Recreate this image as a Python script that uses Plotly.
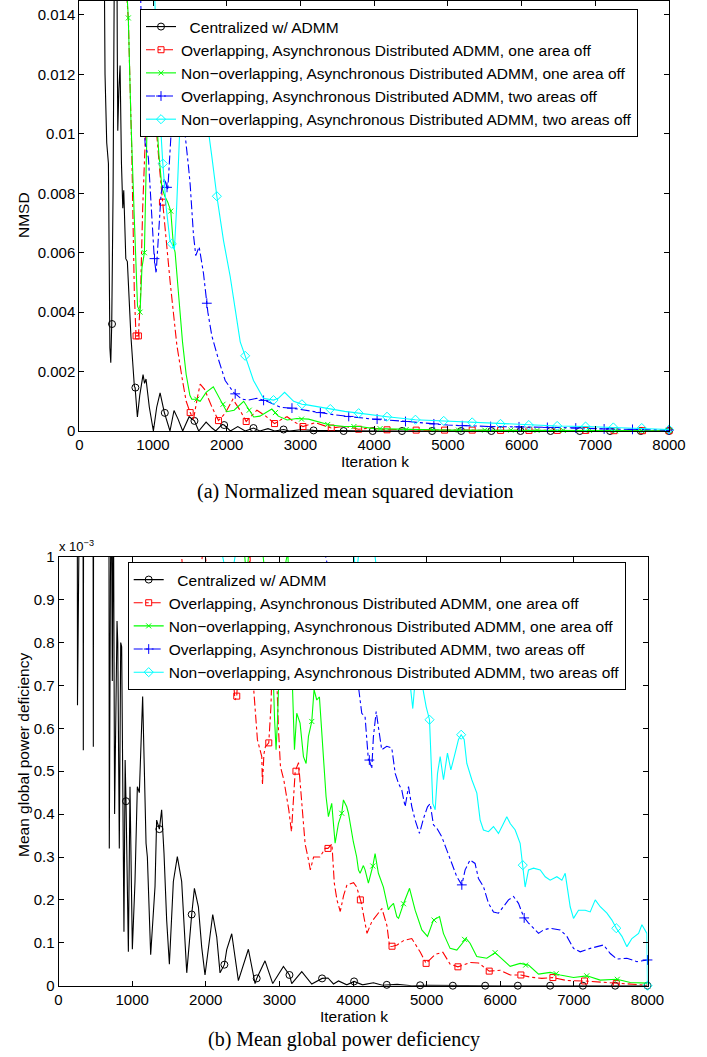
import plotly.graph_objects as go

# ---------------- names ----------------
names = [
    "\u00a0\u00a0Centralized w/ ADMM",
    "Overlapping, Asynchronous Distributed ADMM, one area off",
    "Non\u2212overlapping, Asynchronous Distributed ADMM, one area off",
    "Overlapping, Asynchronous Distributed ADMM, two areas off",
    "Non\u2212overlapping, Asynchronous Distributed ADMM, two areas off",
]
colors = ["#000000", "#ff0000", "#00ff00", "#0000ff", "#00ffff"]
dashes = ["solid", "dashdot", "solid", "dashdot", "solid"]
symbols = ["circle-open", "square-open", "x-thin-open", "cross-thin-open", "diamond-open"]
msizes = [7, 6, 5, 7, 7]

x_ticks = [0, 1000, 2000, 3000, 4000, 5000, 6000, 7000, 8000]
x_ticklabels = ["0", "1000", "2000", "3000", "4000", "5000", "6000", "7000", "8000"]
top_yticks = [0, 0.002, 0.004, 0.006, 0.008, 0.01, 0.012, 0.014]
top_yticklabels = ["0", "0.002", "0.004", "0.006", "0.008", "0.01", "0.012", "0.014"]
bot_yticks = [0, 0.1, 0.2, 0.3, 0.4, 0.5, 0.6, 0.7, 0.8, 0.9, 1.0]
bot_yticklabels = ["0", "0.1", "0.2", "0.3", "0.4", "0.5", "0.6", "0.7", "0.8", "0.9", "1"]

# ---------------- (a) NMSD ----------------
a_black_k = [300, 349, 372, 395, 415, 427, 440, 458, 476, 505, 515, 522, 537, 553, 572, 590, 603, 612, 631, 652,
             700, 747, 757, 788, 820, 865, 885, 905, 950, 1005, 1050, 1096, 1154, 1230, 1285, 1340, 1403, 1490,
             1562, 1620, 1720, 1800, 1850, 1940, 1965, 2050, 2150, 2250, 2363, 2450, 2560, 2650, 2771, 2850,
             3000, 3178, 3586, 4000, 5000, 6000, 7000, 8000]
a_black_y = [0.03, 0.012, 0.0097, 0.009, 0.0028, 0.0023, 0.0036, 0.008, 0.016, 0.02, 0.013, 0.0101, 0.0115, 0.0123,
             0.009, 0.0075, 0.0081, 0.0074, 0.0058, 0.0057, 0.0032, 0.0015, 0.00146, 0.00047, 0.0012, 0.0019,
             0.0016, 0.00175, 0.0008, 0.0, 0.0008, 0.00128, 0.00062, 0.0, 0.00069, 0.0004, 0.0, 0.00048,
             0.00034, 0.0, 0.0003, 0.0001, 0.0, 0.00022, 0.0002, 0.0, 0.00015, 0.0, 0.0001, 0.0, 0.00008, 0.0,
             0.00005, 0.0, 0.00004, 0.00002, 0.0, 0.0, 0.0, 0.0, 0.0, 0.0]
a_black_mk = [444, 761, 1160, 1562, 1965, 2363, 2771, 3178, 3586, 3980, 4378, 4786, 5180, 5590, 5985, 6393, 6790,
              7200, 7617, 8000]
a_black_my = [0.0036, 0.00146, 0.00061, 0.00034, 0.0002, 0.0001, 0.00005, 0.00002, 0, 0, 0, 0, 0, 0, 0, 0, 0,
              0, 0, 0]

a_red_k = [600, 640, 666, 711, 747, 770, 802, 830, 860, 901, 930, 960, 1005, 1050, 1090, 1128, 1180, 1233, 1280,
           1323, 1400, 1450, 1504, 1550, 1600, 1640, 1700, 1800, 1888, 1980, 2083, 2180, 2264, 2340, 2410, 2530,
           2649, 2750, 2818, 2920, 3034, 3200, 3300, 3418, 3600, 3790, 3950, 4175, 4400, 4570, 5000, 6000, 8000]
a_red_y = [0.025, 0.0148, 0.0138, 0.0095, 0.0046, 0.0032, 0.0032, 0.0045, 0.0075, 0.0102, 0.0108, 0.0101,
           0.0104, 0.0100, 0.0088, 0.0077, 0.0064, 0.0050, 0.0038, 0.0029, 0.0017, 0.0010, 0.00062, 0.0004,
           0.0011, 0.00158, 0.0014, 0.0008, 0.00035, 0.0006, 0.00107, 0.0007, 0.00032, 0.0005, 0.0007, 0.0005,
           0.00025, 0.0004, 0.00048, 0.0003, 0.00015, 0.00028, 0.0002, 0.0001, 0.00016, 0.00006, 0.0001,
           0.00004, 0.00006, 0.00003, 0.00003, 0.00002, 0.00001]
a_red_mk = [770, 802, 1128, 1504, 1888, 2264, 2649, 3034, 3418, 3790, 4175, 4570, 4955, 5330, 5715, 6100, 6485,
            6870, 7255, 7640, 8000]
a_red_my = [0.0032, 0.0032, 0.0077, 0.00062, 0.00035, 0.00032, 0.00025, 0.00015, 0.0001, 0.00006, 0.00004,
            0.00003, 0.00003, 0.00003, 0.00002, 0.00002, 0.00002, 0.00002, 0.00001, 0.00001, 0.00001]

a_green_k = [620, 645, 665, 700, 750, 790, 824, 850, 883, 900, 915, 940, 1000, 1040, 1080, 1120, 1160, 1200, 1241,
             1275, 1300, 1350, 1400, 1450, 1500, 1526, 1594, 1640, 1720, 1818, 1900, 2000, 2100, 2230, 2365, 2450,
             2612, 2700, 2820, 2950, 3110, 3250, 3400, 3600, 3800, 4000, 4500, 5000, 6000, 8000]
a_green_y = [0.025, 0.0148, 0.0139, 0.0105, 0.0069, 0.0042, 0.0040, 0.0055, 0.0060, 0.0085, 0.0098, 0.0115,
             0.0118, 0.0108, 0.0093, 0.0082, 0.0079, 0.0077, 0.0074, 0.0063, 0.0060, 0.0045, 0.0030, 0.0019,
             0.0012, 0.00107, 0.00107, 0.0010, 0.0013, 0.00149, 0.0011, 0.00065, 0.0007, 0.001, 0.00047, 0.0005,
             0.00074, 0.0005, 0.00037, 0.00042, 0.0004, 0.0003, 0.0002, 0.00015, 0.00015, 0.00008, 0.00005,
             0.00003, 0.00002, 0.00001]
a_green_mk = [665, 824, 883, 1241, 1594, 1950, 2305, 2660, 3015, 3370, 3725, 4080, 4435, 4790, 5145, 5500, 5855,
              6210, 6565, 6920, 7275, 7630, 8000]
a_green_my = [0.0139, 0.0040, 0.0060, 0.0074, 0.00107, 0.0009, 0.0007, 0.00062, 0.0004, 0.00022, 0.00015,
              0.00008, 0.00005, 0.00004, 0.00003, 0.00003, 0.00003, 0.00002, 0.00002, 0.00002, 0.00001, 0.00001,
              0.00001]

a_blue_k = [780, 830, 860, 892, 937, 975, 1015, 1042, 1073, 1110, 1155, 1200, 1240, 1277, 1330, 1390, 1413, 1481,
            1504, 1549, 1580, 1626, 1685, 1744, 1798, 1889, 1979, 2092, 2205, 2296, 2410, 2545, 2727, 2908, 3180,
            3450, 3720, 3980, 4450, 5000, 5580, 6480, 7160, 8000]
a_blue_y = [0.025, 0.0148, 0.012, 0.0097, 0.0092, 0.0075, 0.0059, 0.0053, 0.0066, 0.0080, 0.0085, 0.0081,
            0.0098, 0.0115, 0.0135, 0.0125, 0.0105, 0.0089, 0.0083, 0.0066, 0.0059, 0.0062, 0.0053, 0.0040,
            0.0032, 0.0024, 0.0017, 0.0013, 0.00107, 0.00104, 0.0011, 0.001, 0.0008, 0.00076, 0.00065, 0.00055,
            0.00047, 0.0004, 0.00032, 0.0002, 0.00015, 0.00012, 0.00007, 0.00003]
a_blue_mk = [1020, 1190, 1730, 2115, 2500, 2885, 3270, 3655, 4040, 4425, 4810, 5195, 5580, 5965, 6350, 6735,
             7120, 7505, 8000]
a_blue_my = [0.0058, 0.0082, 0.0043, 0.00125, 0.00103, 0.00077, 0.00062, 0.00049, 0.0004, 0.00032, 0.00024,
             0.00018, 0.00015, 0.00014, 0.00012, 0.0001, 0.00007, 0.000055, 0.00003]

a_cyan_k = [990, 1020, 1060, 1100, 1133, 1180, 1230, 1255, 1290, 1320, 1350, 1380, 1450, 1550, 1650, 1730, 1800,
            1866, 1957, 2047, 2115, 2183, 2250, 2363, 2498, 2635, 2700, 2785, 2908, 3020, 3090, 3270, 3405, 3600,
            3790, 4000, 4175, 4560, 4944, 5330, 5714, 6098, 6483, 6868, 7245, 7630, 8000]
a_cyan_y = [0.025, 0.0148, 0.012, 0.0103, 0.009, 0.0075, 0.0064, 0.0063, 0.0061, 0.0075, 0.0095, 0.0112,
            0.0135, 0.0138, 0.0125, 0.0105, 0.0092, 0.0079, 0.0064, 0.0052, 0.0041, 0.0030, 0.00253, 0.0017,
            0.0011, 0.00104, 0.0011, 0.0013, 0.001, 0.0009, 0.00088, 0.0008, 0.00074, 0.00066, 0.0006, 0.00053,
            0.00048, 0.00038, 0.00034, 0.00029, 0.00024, 0.0002, 0.00017, 0.00015, 0.00012, 0.0001, 0.00005]
a_cyan_mk = [1133, 1255, 1866, 2250, 2635, 3020, 3405, 3790, 4175, 4560, 4944, 5330, 5714, 6098, 6483, 6868,
             7245, 7630, 8000]
a_cyan_my = [0.009, 0.0063, 0.0079, 0.00253, 0.00104, 0.0009, 0.00074, 0.0006, 0.00048, 0.00038, 0.00034,
             0.00029, 0.00024, 0.0002, 0.00017, 0.00015, 0.00012, 0.0001, 0.00005]

# ---------------- (b) Mean global power deficiency (units of 1e-3) ----------------
b_black_k = [200, 250, 258, 266, 328, 337, 346, 464, 473, 482, 680, 690, 705, 718, 731, 745, 762, 775, 795, 805,
             826, 845, 858, 889, 905, 917, 949, 971, 1003, 1039, 1071, 1098, 1143, 1189, 1207, 1252, 1311, 1333,
             1370, 1401, 1433, 1469, 1506, 1560, 1614, 1673, 1710, 1742, 1809, 1846, 1900, 1945, 1990, 2095,
             2149, 2194, 2253, 2285, 2353, 2443, 2579, 2670, 2692, 2805, 2910, 3055, 3137, 3168, 3304, 3440,
             3580, 3660, 3735, 3803, 3916, 4015, 4130, 4277, 4400, 4600, 4800, 5000, 6000, 8000]
b_black_y = [2.0, 2.0, 0.654, 2.0, 2.0, 0.549, 2.0, 2.0, 0.557, 2.0, 2.0, 0.32, 0.94, 1.2, 0.71, 1.2, 0.40, 0.60,
             0.85, 0.80, 0.32, 0.80, 0.79, 0.126, 0.526, 0.43, 0.079, 0.464, 0.085, 0.243, 0.464, 0.45, 0.674,
             0.332, 0.30, 0.072, 0.231, 0.386, 0.365, 0.41, 0.309, 0.153, 0.05, 0.243, 0.301, 0.243, 0.114,
             0.03, 0.166, 0.227, 0.184, 0.09, 0.025, 0.166, 0.114, 0.03, 0.049, 0.084, 0.121, 0.012, 0.085,
             0.005, 0.017, 0.058, 0.005, 0.045, 0.025, 0.005, 0.033, 0.004, 0.017, 0.018, 0.004, 0.011, 0.002,
             0.01, 0.002, 0.007, 0.001, 0.003, 0.0, 0.001, 0.0, 0.0]
b_black_mk = [917, 1370, 1809, 2253, 2692, 3137, 3580, 4015, 4459, 4912, 5356, 5795, 6239, 6678, 7122, 7561, 8000]
b_black_my = [0.43, 0.365, 0.166, 0.049, 0.017, 0.025, 0.017, 0.01, 0.002, 0.001, 0, 0, 0, 0, 0, 0, 0]

b_red_k = [1600, 1673, 1720, 1800, 1900, 1945, 1975, 2010, 2150, 2300, 2350, 2380, 2398, 2421, 2444, 2500, 2580,
           2602, 2612, 2625, 2702, 2740, 2761, 2770, 2790, 2810, 2856, 2885, 2905, 2930, 2960, 2987, 3015, 3060,
           3128, 3164, 3190, 3215, 3260, 3305, 3350, 3396, 3420, 3465, 3550, 3623, 3660, 3714, 3746, 3782, 3827,
           3872, 3918, 4008, 4050, 4110, 4160, 4190, 4257, 4348, 4393, 4461, 4497, 4540, 4600, 4685, 4798, 4911,
           4993, 5115, 5220, 5320, 5425, 5590, 5705, 5850, 6000, 6135, 6280, 6407, 6565, 6715, 6905, 7145, 7403,
           7576, 7834, 8000]
b_red_y = [1.12, 1.0, 0.9, 0.85, 0.93, 1.0, 1.03, 0.98, 0.86, 0.78, 0.74, 0.70, 0.666, 0.675, 0.75, 0.85, 0.96,
           1.01, 0.9, 0.752, 0.573, 0.55, 0.534, 0.468, 0.54, 0.557, 0.566, 0.65, 0.76, 0.8, 0.74, 0.6, 0.51,
           0.48, 0.41, 0.359, 0.42, 0.50, 0.52, 0.43, 0.33, 0.293, 0.27, 0.30, 0.30, 0.32, 0.32, 0.33, 0.239,
           0.20, 0.173, 0.21, 0.235, 0.24, 0.23, 0.195, 0.15, 0.122, 0.15, 0.17, 0.18, 0.14, 0.091, 0.092, 0.095,
           0.105, 0.11, 0.079, 0.052, 0.073, 0.078, 0.05, 0.044, 0.054, 0.053, 0.034, 0.036, 0.025, 0.025, 0.02,
           0.017, 0.019, 0.012, 0.011, 0.008, 0.005, 0.003, 0.001]
b_red_mk = [2421, 2856, 3225, 3660, 4100, 4530, 4993, 5425, 5850, 6280, 6715, 7145, 7576]
b_red_my = [0.675, 0.566, 0.50, 0.32, 0.20, 0.092, 0.052, 0.044, 0.034, 0.025, 0.019, 0.011, 0.005]

b_green_k = [2450, 2530, 2555, 2580, 2680, 2780, 2850, 2910, 2935, 2955, 2975, 3000, 3050, 3090, 3115, 3140,
             3168, 3205, 3236, 3281, 3327, 3363, 3395, 3440, 3471, 3508, 3544, 3598, 3634, 3666, 3711, 3757,
             3802, 3847, 3870, 3915, 3938, 4005, 4050, 4074, 4096, 4141, 4164, 4209, 4269, 4300, 4345, 4413,
             4481, 4504, 4550, 4595, 4619, 4686, 4768, 4844, 4935, 5012, 5093, 5175, 5228, 5319, 5410, 5537,
             5590, 5681, 5817, 5930, 6044, 6135, 6270, 6384, 6520, 6678, 6814, 6995, 7177, 7358, 7584, 7766,
             7992, 8000]
b_green_y = [1.1, 1.0, 0.95, 1.0, 1.08, 1.0, 0.88, 0.76, 0.62, 0.55, 0.62, 0.76, 0.92, 0.99, 1.01, 0.9, 0.751,
             0.55, 0.635, 0.612, 0.534, 0.518, 0.581, 0.616, 0.69, 0.666, 0.673, 0.534, 0.441, 0.394, 0.425,
             0.332, 0.378, 0.402, 0.433, 0.417, 0.402, 0.335, 0.30, 0.27, 0.262, 0.28, 0.27, 0.239, 0.279, 0.308,
             0.262, 0.23, 0.177, 0.184, 0.192, 0.161, 0.157, 0.191, 0.227, 0.176, 0.130, 0.115, 0.153, 0.161,
             0.122, 0.087, 0.083, 0.110, 0.099, 0.068, 0.064, 0.077, 0.060, 0.045, 0.052, 0.048, 0.027, 0.031,
             0.025, 0.019, 0.023, 0.013, 0.015, 0.0075, 0.006, 0.005]
b_green_mk = [3440, 3847, 4269, 4686, 5100, 5515, 5930, 6345, 6760, 7175, 7590]
b_green_my = [0.616, 0.402, 0.279, 0.191, 0.153, 0.108, 0.077, 0.048, 0.028, 0.023, 0.015]

b_blue_k = [3500, 3600, 3630, 3680, 3800, 3900, 3980, 4006, 4027, 4050, 4074, 4119, 4164, 4209, 4222, 4255, 4277,
            4315, 4346, 4390, 4459, 4527, 4573, 4619, 4663, 4708, 4754, 4799, 4844, 4903, 4958, 5012, 5048, 5093,
            5139, 5206, 5274, 5342, 5410, 5478, 5523, 5590, 5658, 5704, 5772, 5840, 5908, 5976, 6044, 6112, 6180,
            6248, 6316, 6384, 6452, 6520, 6588, 6678, 6814, 6905, 6995, 7086, 7222, 7403, 7494, 7584, 7720, 7856,
            8000]
b_blue_y = [1.1, 1.02, 1.0, 0.96, 0.88, 0.8, 0.77, 0.754, 0.745, 0.713, 0.697, 0.635, 0.627, 0.526, 0.526, 0.506,
            0.58, 0.639, 0.604, 0.55, 0.558, 0.554, 0.495, 0.471, 0.456, 0.417, 0.464, 0.417, 0.386, 0.355, 0.39,
            0.417, 0.424, 0.375, 0.367, 0.347, 0.316, 0.285, 0.254, 0.235, 0.27, 0.293, 0.285, 0.25, 0.231, 0.192,
            0.172, 0.169, 0.184, 0.200, 0.208, 0.192, 0.161, 0.146, 0.134, 0.122, 0.130, 0.134, 0.130, 0.115,
            0.087, 0.079, 0.087, 0.095, 0.075, 0.062, 0.064, 0.056, 0.06]
b_blue_mk = [4222, 5478, 6325, 8000]
b_blue_my = [0.526, 0.235, 0.158, 0.06]

b_cyan_k = [2100, 2200, 2230, 2300, 2370, 2398, 2450, 3000, 3600, 3950, 4015, 4045, 4073, 4150, 4250, 4300, 4380,
            4470, 4503, 4527, 4573, 4619, 4663, 4700, 4740, 4776, 4812, 4844, 4890, 4920, 4958, 4994, 5039, 5057,
            5084, 5116, 5148, 5184, 5229, 5283, 5329, 5387, 5433, 5469, 5510, 5546, 5614, 5682, 5727, 5772, 5840,
            5908, 5976, 6044, 6089, 6135, 6203, 6270, 6306, 6338, 6384, 6452, 6543, 6611, 6678, 6769, 6837, 6882,
            6950, 6995, 7063, 7154, 7222, 7290, 7358, 7449, 7517, 7576, 7653, 7720, 7788, 7879, 7924, 7992, 8000]
b_cyan_y = [1.15, 1.03, 1.0, 0.94, 0.97, 1.0, 1.08, 1.25, 1.2, 1.05, 1.0, 0.95, 1.0, 1.05, 1.04, 1.0, 0.88, 0.78,
            0.754, 0.697, 0.736, 0.72, 0.743, 0.765, 0.76, 0.697, 0.646, 0.712, 0.743, 0.72, 0.682, 0.65, 0.62,
            0.542, 0.425, 0.41, 0.495, 0.534, 0.48, 0.542, 0.503, 0.542, 0.574, 0.585, 0.574, 0.518, 0.48, 0.449,
            0.386, 0.363, 0.359, 0.371, 0.355, 0.378, 0.394, 0.378, 0.363, 0.332, 0.281, 0.23, 0.27, 0.274, 0.27,
            0.254, 0.246, 0.254, 0.246, 0.262, 0.184, 0.157, 0.176, 0.176, 0.172, 0.2, 0.184, 0.169, 0.153, 0.134,
            0.115, 0.091, 0.11, 0.122, 0.142, 0.122, 0.0]
b_cyan_mk = [5039, 5469, 6306, 7576, 8000]
b_cyan_my = [0.62, 0.585, 0.281, 0.134, 0.0]

top_series = [(a_black_k, a_black_y, a_black_mk, a_black_my),
              (a_red_k, a_red_y, a_red_mk, a_red_my),
              (a_green_k, a_green_y, a_green_mk, a_green_my),
              (a_blue_k, a_blue_y, a_blue_mk, a_blue_my),
              (a_cyan_k, a_cyan_y, a_cyan_mk, a_cyan_my)]
bot_series = [(b_black_k, b_black_y, b_black_mk, b_black_my),
              (b_red_k, b_red_y, b_red_mk, b_red_my),
              (b_green_k, b_green_y, b_green_mk, b_green_my),
              (b_blue_k, b_blue_y, b_blue_mk, b_blue_my),
              (b_cyan_k, b_cyan_y, b_cyan_mk, b_cyan_my)]

W, H = 707, 1057
FONT = "Liberation Sans, Arial, Helvetica, sans-serif"
fig = go.Figure()


def add_panel(series, xa, ya, legend_name):
    for i, (k, y, mk, my) in enumerate(series):
        fig.add_trace(go.Scatter(x=k, y=y, mode="lines", xaxis=xa, yaxis=ya,
                                 line=dict(color=colors[i], width=1.1, dash=dashes[i]),
                                 showlegend=False, hoverinfo="skip"))
        fig.add_trace(go.Scatter(x=mk, y=my, mode="markers", xaxis=xa, yaxis=ya, cliponaxis=False,
                                 marker=dict(symbol=symbols[i], size=msizes[i], color=colors[i],
                                             line=dict(color=colors[i], width=1)),
                                 showlegend=False, hoverinfo="skip"))
    for i in range(5):
        fig.add_trace(go.Scatter(x=[None], y=[None], mode="lines+markers", xaxis=xa, yaxis=ya,
                                 name=names[i], legend=legend_name,
                                 line=dict(color=colors[i], width=1.1, dash=dashes[i]),
                                 marker=dict(symbol=symbols[i], size=msizes[i], color=colors[i],
                                             line=dict(color=colors[i], width=1))))


add_panel(top_series, "x", "y", "legend")
add_panel(bot_series, "x2", "y2", "legend2")

axis_common = dict(showline=True, linecolor="black", linewidth=1, mirror="allticks", ticks="inside",
                   ticklen=5, tickcolor="black", showgrid=False, zeroline=False, automargin=False,
                   tickfont=dict(family=FONT, size=15, color="black"))

LEGFONT = dict(family=FONT, size=15.5, color="black")
fig.update_layout(
    width=W, height=H, margin=dict(l=0, r=0, t=0, b=0, autoexpand=False),
    paper_bgcolor="white", plot_bgcolor="white", showlegend=True,
    xaxis=dict(domain=[79.3 / W, 669 / W], range=[0, 8000], tickvals=x_ticks, ticktext=x_ticklabels,
               anchor="y", **axis_common),
    yaxis=dict(domain=[1 - 431 / H, 1 - 1 / H], range=[0, 0.01447], tickvals=top_yticks,
               ticktext=top_yticklabels, anchor="x", **axis_common),
    xaxis2=dict(domain=[58.5 / W, 647.5 / W], range=[0, 8000], tickvals=x_ticks, ticktext=x_ticklabels,
                anchor="y2", **axis_common),
    yaxis2=dict(domain=[1 - 985.7 / H, 1 - 556.7 / H], range=[0, 1.0], tickvals=bot_yticks,
                ticktext=bot_yticklabels, anchor="x2", **axis_common),
    legend=dict(x=140 / W, y=1 - 9 / H, xanchor="left", yanchor="top", bgcolor="white",
                bordercolor="black", borderwidth=1, font=LEGFONT, itemwidth=30, tracegroupgap=0),
    legend2=dict(x=127.7 / W, y=1 - 562 / H, xanchor="left", yanchor="top", bgcolor="white",
                 bordercolor="black", borderwidth=1, font=LEGFONT, itemwidth=30, tracegroupgap=0),
)

ann = [
    dict(text="Iteration k", x=375 / W, y=1 - 461 / H, font=dict(family=FONT, size=15.5)),
    dict(text="Iteration k", x=354 / W, y=1 - 1016 / H, font=dict(family=FONT, size=15.5)),
    dict(text="NMSD", x=23 / W, y=1 - 215 / H, textangle=-90, font=dict(family=FONT, size=15.5)),
    dict(text="Mean global power deficiency", x=23 / W, y=1 - 755 / H, textangle=-90,
         font=dict(family=FONT, size=15.5)),
    dict(text="(a) Normalized mean squared deviation", x=356 / W, y=1 - 491 / H,
         font=dict(family="Liberation Serif, Times New Roman, serif", size=20)),
    dict(text="(b) Mean global power deficiency", x=344 / W, y=1 - 1039 / H,
         font=dict(family="Liberation Serif, Times New Roman, serif", size=20)),
]
for a in ann:
    a.update(xref="paper", yref="paper", showarrow=False, xanchor="center", yanchor="middle")
    a["font"]["color"] = "black"
    fig.add_annotation(**a)
fig.add_annotation(text="x 10<sup>\u22123</sup>", x=57 / W, y=1 - 546 / H, xref="paper", yref="paper",
                   showarrow=False, xanchor="left", yanchor="middle",
                   font=dict(family=FONT, size=13, color="black"))

fig.write_html("out.html", config={"displayModeBar": False},
               post_script="document.body.style.margin='0px';")
